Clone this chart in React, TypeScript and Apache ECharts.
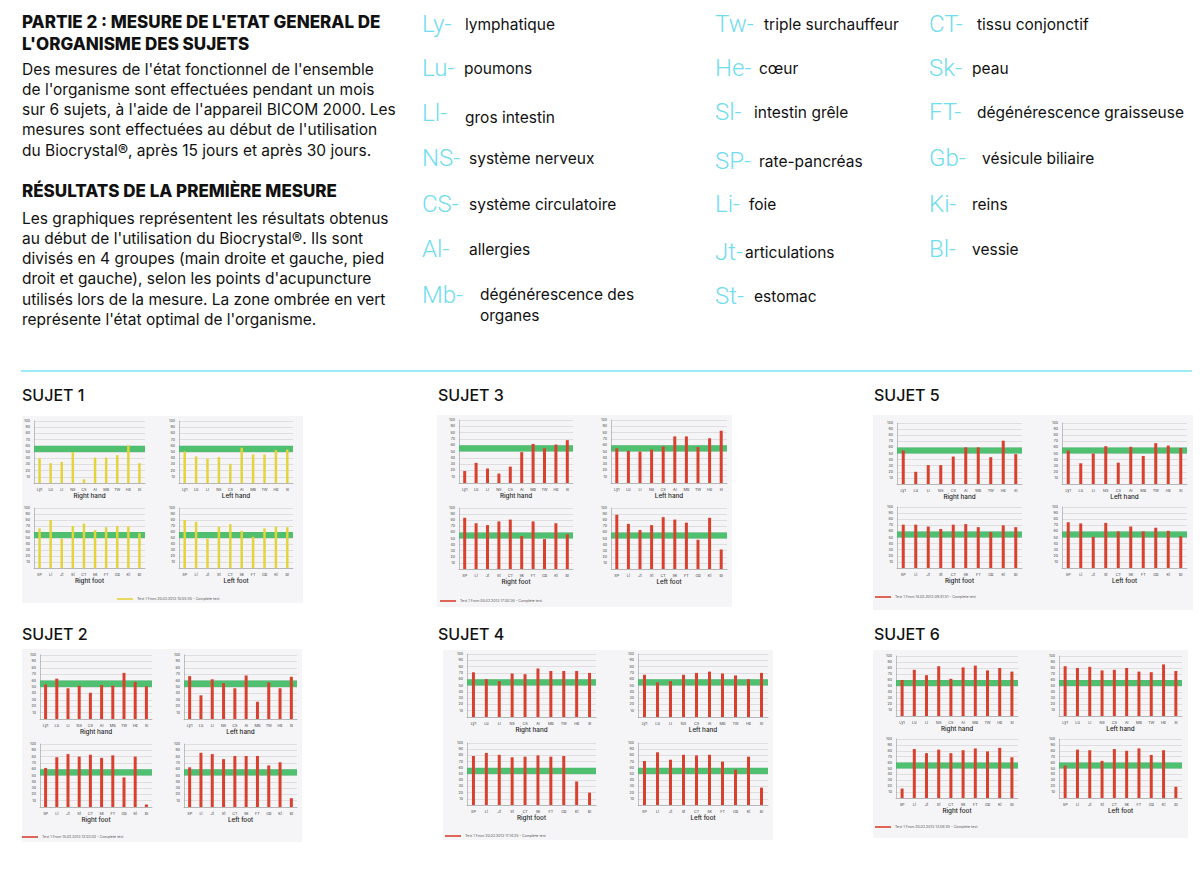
import React, { useEffect, useRef } from "react";
import * as echarts from "echarts";

// ---------- categories ----------
const handCats = ["Ly1", "Lu", "LI", "NS", "CS", "Al", "MB", "TW", "He", "Sl"];
const footCats = ["SP", "Li", "Jt", "St", "CT", "Sk", "FT", "Gb", "Ki", "Bl"];
const chartTitles = ["Right hand", "Left hand", "Right foot", "Left foot"];
const optimalBand = [50, 60];

// ---------- values ----------
const s1RightHand = [40, 32, 34, 50, 6, 41, 41, 45, 61, 32];
const s1LeftHand = [51, 43, 39, 42, 31, 57, 46, 46, 53, 54];
const s1RightFoot = [66, 80, 49, 70, 74, 63, 68, 70, 69, 58];
const s1LeftFoot = [80, 77, 49, 69, 73, 62, 52, 66, 69, 68];

const s2RightHand = [54, 63, 48, 52, 41, 53, 52, 72, 58, 51];
const s2LeftHand = [67, 37, 62, 56, 48, 68, 27, 57, 48, 66];
const s2RightFoot = [62, 79, 84, 80, 83, 78, 82, 47, 80, 4];
const s2LeftFoot = [63, 86, 84, 76, 81, 81, 81, 66, 71, 14];

const s3RightHand = [19, 32, 23, 15, 26, 49, 62, 55, 61, 68];
const s3LeftHand = [55, 51, 50, 53, 58, 74, 74, 57, 71, 83];
const s3RightFoot = [84, 75, 72, 78, 81, 54, 78, 49, 75, 57];
const s3LeftFoot = [89, 74, 64, 72, 85, 81, 76, 48, 84, 32];

const s4RightHand = [71, 60, 57, 69, 68, 77, 73, 73, 73, 70];
const s4LeftHand = [67, 55, 57, 67, 70, 72, 69, 66, 60, 70];
const s4RightFoot = [79, 84, 81, 77, 78, 80, 78, 79, 38, 20];
const s4LeftFoot = [71, 85, 73, 81, 80, 81, 70, 57, 78, 28];

const s5RightHand = [55, 20, 31, 31, 45, 60, 60, 44, 71, 49];
const s5LeftHand = [55, 34, 50, 62, 35, 61, 46, 67, 63, 59];
const s5RightFoot = [71, 71, 68, 64, 71, 72, 67, 59, 70, 67];
const s5LeftFoot = [75, 73, 51, 74, 60, 68, 60, 66, 61, 52];

const s6RightHand = [60, 77, 68, 83, 62, 81, 84, 76, 80, 74];
const s6LeftHand = [83, 80, 82, 76, 77, 80, 74, 73, 86, 75];
const s6RightFoot = [16, 83, 76, 82, 76, 81, 84, 79, 85, 69];
const s6LeftFoot = [55, 82, 81, 63, 83, 80, 84, 73, 81, 19];

const testLabels = [
  "Test 1 From 20.02.2013 10:05:45 - Complete test",
  "Test 1 From 15.02.2013 12:03:02 - Complete test",
  "Test 1 From 05.02.2013 17:00:36 - Complete test",
  "Test 1 From 20.02.2013 11:14:25 - Complete test",
  "Test 1 From 14.02.2013 09:41:51 - Complete test",
  "Test 1 From 20.02.2013 13:08:45 - Complete test",
];
const subjectNames = ["SUJET 1", "SUJET 2", "SUJET 3", "SUJET 4", "SUJET 5", "SUJET 6"];

// ---------- texts ----------
const titleLines = ["PARTIE 2 : MESURE DE L'ETAT GENERAL DE", "L'ORGANISME DES SUJETS"];
const para1 = [
  "Des mesures de l'état fonctionnel de l'ensemble",
  "de l'organisme sont effectuées pendant un mois",
  "sur 6 sujets, à l'aide de l'appareil BICOM 2000. Les",
  "mesures sont effectuées au début de l'utilisation",
  "du Biocrystal®, après 15 jours et après 30 jours.",
];
const heading2 = "RÉSULTATS DE LA PREMIÈRE MESURE";
const para2 = [
  "Les graphiques représentent les résultats obtenus",
  "au début de l'utilisation du Biocrystal®. Ils sont",
  "divisés en 4 groupes (main droite et gauche, pied",
  "droit et gauche), selon les points d'acupuncture",
  "utilisés lors de la mesure. La zone ombrée en vert",
  "représente l'état optimal de l'organisme.",
];
const legendAbbr1 = ["Ly-", "Lu-", "Ll-", "NS-", "CS-", "Al-", "Mb-"];
const legendDesc1 = ["lymphatique", "poumons", "gros intestin", "système nerveux", "système circulatoire", "allergies", "dégénérescence des\norganes"];
const legendAbbr2 = ["Tw-", "He-", "Sl-", "SP-", "Li-", "Jt-", "St-"];
const legendDesc2 = ["triple surchauffeur", "cœur", "intestin grêle", "rate-pancréas", "foie", "articulations", "estomac"];
const legendAbbr3 = ["CT-", "Sk-", "FT-", "Gb-", "Ki-", "Bl-"];
const legendDesc3 = ["tissu conjonctif", "peau", "dégénérescence graisseuse", "vésicule biliaire", "reins", "vessie"];

// ---------- layout (positions only) ----------
const legendRows1 = [24, 68, 113, 158, 204, 249, 295];
const legendDescX1 = [465, 464, 465, 469, 469, 469, 480];
const legendDescDy1 = [0, 0, 4, 0, 0, 0, 10];
const legendRows2 = [24, 68, 112, 161, 204, 252, 296];
const legendDescX2 = [764, 759, 754, 759, 749, 745, 754];
const legendRows3 = [24, 68, 112, 158, 204, 249];
const legendDescX3 = [977, 972, 977, 982, 972, 972];

const panels = [
  { color: "#e3d43c", bw: 2.5, box: [22, 416, 281, 187], label: [22, 395], lx: [34, 145], rx: [179, 293], top: [421, 483], bot: [508, 568], leg: [117, 599], data: [s1RightHand, s1LeftHand, s1RightFoot, s1LeftFoot] },
  { color: "#d9412f", bw: 3, box: [22, 649, 280, 193], label: [22, 634], lx: [40, 152], rx: [184, 297], top: [655, 719], bot: [744, 807], leg: [22, 837], data: [s2RightHand, s2LeftHand, s2RightFoot, s2LeftFoot] },
  { color: "#d9412f", bw: 3, box: [437, 415, 295, 192], label: [438, 395], lx: [459, 573], rx: [611, 727], top: [420, 483], bot: [508, 569], leg: [440, 601], data: [s3RightHand, s3LeftHand, s3RightFoot, s3LeftFoot] },
  { color: "#d9412f", bw: 3, box: [443, 650, 330, 190], label: [438, 634], lx: [467, 596], rx: [638, 768], top: [654, 717], bot: [743, 805], leg: [445, 836], data: [s4RightHand, s4LeftHand, s4RightFoot, s4LeftFoot] },
  { color: "#d9412f", bw: 3, box: [873, 415, 320, 195], label: [874, 395], lx: [897, 1022], rx: [1062, 1187], top: [423, 484], bot: [507, 568], leg: [875, 597], data: [s5RightHand, s5LeftHand, s5RightFoot, s5LeftFoot] },
  { color: "#d9412f", bw: 3, box: [873, 650, 315, 188], label: [874, 634], lx: [896, 1018], rx: [1059, 1182], top: [656, 716], bot: [739, 798], leg: [875, 827], data: [s6RightHand, s6LeftHand, s6RightFoot, s6LeftFoot] },
];

const FONT = "Inter, 'Noto Sans', Roboto, sans-serif";

function buildOption() {
  const graphic: any[] = [];
  const grid: any[] = [];
  const xAxis: any[] = [];
  const yAxis: any[] = [];
  const series: any[] = [];

  const txt = (text: string, x: number, y: number, size: number, extra: any = {}) => {
    graphic.push({
      type: "text",
      x,
      y,
      z: 10,
      style: {
        text,
        fontSize: size,
        fontFamily: FONT,
        fill: "#111",
        textVerticalAlign: "middle",
        ...extra,
      },
    });
  };

  // left text block
  titleLines.forEach((t, i) => txt(t, 22, 22 + i * 21.5, 17, { fontWeight: 800 }));
  para1.forEach((t, i) => txt(t, 22, 69 + i * 20.3, 15.5));
  txt(heading2, 22, 191, 17, { fontWeight: 800 });
  para2.forEach((t, i) => txt(t, 22, 218 + i * 20.3, 15.5));

  // abbreviation legend
  const abbrStyle = { fill: "#6fdcef", fontFamily: "Roboto, 'Noto Sans', sans-serif", fontWeight: 300 };
  legendAbbr1.forEach((a, i) => {
    txt(a, 422, legendRows1[i], 24, abbrStyle);
    txt(legendDesc1[i], legendDescX1[i], legendRows1[i] + legendDescDy1[i], 15.5, { lineHeight: 21 });
  });
  legendAbbr2.forEach((a, i) => {
    txt(a, 715, legendRows2[i], 24, abbrStyle);
    txt(legendDesc2[i], legendDescX2[i], legendRows2[i], 15.5);
  });
  legendAbbr3.forEach((a, i) => {
    txt(a, 929, legendRows3[i], 24, abbrStyle);
    txt(legendDesc3[i], legendDescX3[i], legendRows3[i], 15.5);
  });

  // divider
  graphic.push({
    type: "line",
    z: 10,
    shape: { x1: 21, y1: 371, x2: 1192, y2: 371 },
    style: { stroke: "#7fe3f4", lineWidth: 1.5 },
  });

  panels.forEach((p, pi) => {
    txt(subjectNames[pi], p.label[0], p.label[1], 16, { fontWeight: 500 });
    graphic.push({
      type: "rect",
      z: -100,
      shape: { x: p.box[0], y: p.box[1], width: p.box[2], height: p.box[3] },
      style: { fill: "#f5f5f7" },
    });
    // legend of the test
    graphic.push({
      type: "line",
      z: 10,
      shape: { x1: p.leg[0], y1: p.leg[1], x2: p.leg[0] + 16, y2: p.leg[1] },
      style: { stroke: p.color, lineWidth: 1.6 },
    });
    txt(testLabels[pi], p.leg[0] + 20, p.leg[1], 3.6, { fill: "#555" });

    const rects = [
      [p.lx, p.top],
      [p.rx, p.top],
      [p.lx, p.bot],
      [p.rx, p.bot],
    ];
    rects.forEach((r, ci) => {
      const idx = grid.length;
      const [xr, yr] = r;
      grid.push({ left: xr[0], top: yr[0], width: xr[1] - xr[0], height: yr[1] - yr[0], containLabel: false });
      xAxis.push({
        type: "category",
        gridIndex: idx,
        data: ci < 2 ? handCats : footCats,
        axisLine: { show: true, lineStyle: { color: "#9a9a9a", width: 0.6 } },
        axisTick: { show: false },
        axisLabel: { interval: 0, fontSize: 3.8, color: "#444", margin: 4, fontFamily: FONT },
        splitLine: { show: false },
      });
      yAxis.push({
        type: "value",
        gridIndex: idx,
        min: 0,
        max: 100,
        interval: 10,
        axisLine: { show: true, lineStyle: { color: "#9a9a9a", width: 0.6 } },
        axisTick: { show: false },
        axisLabel: { fontSize: 3.6, color: "#444", margin: 4, fontFamily: FONT, formatter: (v: number) => (v === 0 ? "" : String(v)) },
        splitLine: { show: true, lineStyle: { color: "#cfcfd2", width: 0.6 } },
      });
      series.push({
        type: "bar",
        xAxisIndex: idx,
        yAxisIndex: idx,
        data: p.data[ci],
        barWidth: p.bw,
        itemStyle: { color: p.color },
        silent: true,
        markArea: {
          silent: true,
          itemStyle: { color: "rgba(64,186,100,0.92)" },
          data: [[{ yAxis: optimalBand[0] }, { yAxis: optimalBand[1] }]],
        },
      });
      txt(chartTitles[ci], (xr[0] + xr[1]) / 2, yr[1] + 13, 6.3, { textAlign: "center", fill: "#222", fontWeight: 500 });
    });
  });

  return {
    animation: false,
    backgroundColor: "#ffffff",
    graphic: { elements: graphic },
    grid,
    xAxis,
    yAxis,
    series,
  };
}

export default function App() {
  const ref = useRef<HTMLDivElement>(null);
  useEffect(() => {
    if (!ref.current) return;
    const chart = echarts.init(ref.current, undefined, { renderer: "svg" });
    chart.setOption(buildOption());
    return () => chart.dispose();
  }, []);
  return <div ref={ref} style={{ position: "absolute", left: 0, top: 0, width: 1200, height: 892 }} />;
}
